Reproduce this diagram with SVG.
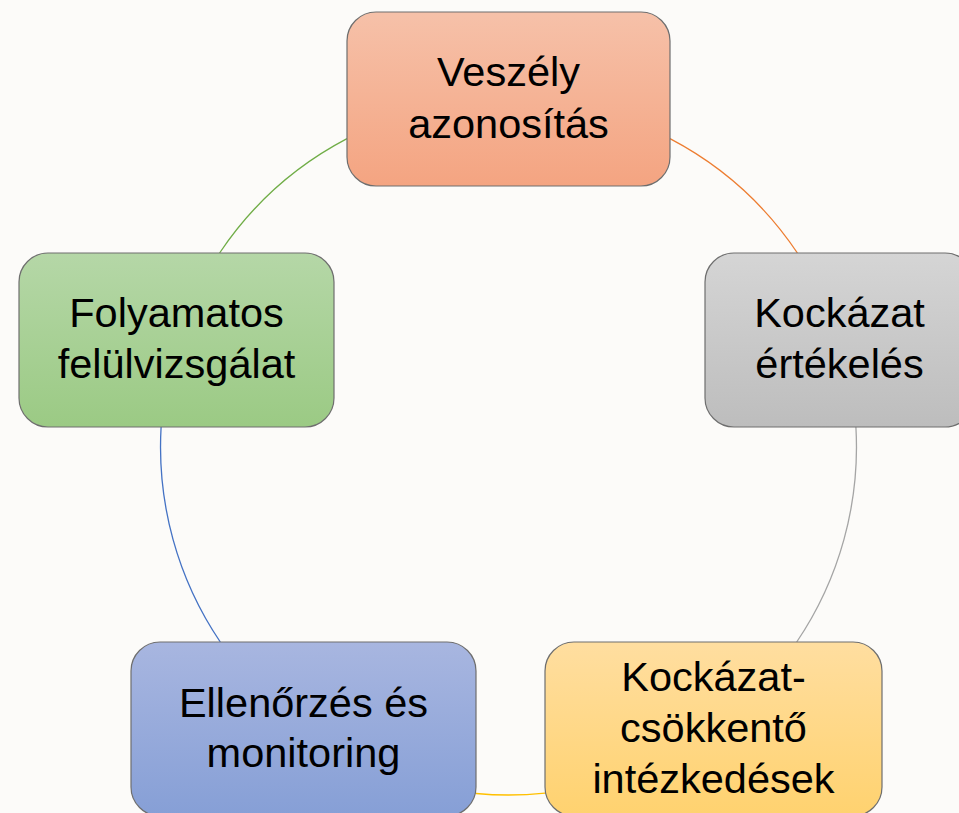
<svg xmlns="http://www.w3.org/2000/svg" width="959" height="813" viewBox="0 0 959 813">
  <defs>
    <linearGradient id="gOrange" x1="0" y1="0" x2="0" y2="1">
      <stop offset="0" stop-color="#F6C1A9"/>
      <stop offset="1" stop-color="#F4A481"/>
    </linearGradient>
    <linearGradient id="gGray" x1="0" y1="0" x2="0" y2="1">
      <stop offset="0" stop-color="#D5D5D5"/>
      <stop offset="1" stop-color="#BDBDBD"/>
    </linearGradient>
    <linearGradient id="gYellow" x1="0" y1="0" x2="0" y2="1">
      <stop offset="0" stop-color="#FFDEA0"/>
      <stop offset="1" stop-color="#FFD26F"/>
    </linearGradient>
    <linearGradient id="gBlue" x1="0" y1="0" x2="0" y2="1">
      <stop offset="0" stop-color="#A8B6E0"/>
      <stop offset="1" stop-color="#869FD6"/>
    </linearGradient>
    <linearGradient id="gGreen" x1="0" y1="0" x2="0" y2="1">
      <stop offset="0" stop-color="#B5D7A7"/>
      <stop offset="1" stop-color="#9BCA84"/>
    </linearGradient>
  </defs>
  <style>
    .box { stroke: #6E6E6E; stroke-width: 1.2; }
    .lbl { font-family: "Liberation Sans", Arial, sans-serif; font-size: 41.5px; fill: #000; text-anchor: middle; }
    .arc { fill: none; stroke-width: 1.3; }
  </style>
  <rect width="959" height="813" fill="#FCFBF9"/>
  <g id="connectors">
    <path class="arc" stroke="#ED7D31" d="M670,138.7 A348,348 0 0 1 797.4,253"/>
    <path class="arc" stroke="#A5A5A5" d="M855.9,427 A348,348 0 0 1 796.7,642"/>
    <path class="arc" stroke="#FFC000" d="M545,793.1 A348,348 0 0 1 476,793.5"/>
    <path class="arc" stroke="#4472C4" d="M220.3,642 A348,348 0 0 1 161.1,427"/>
    <path class="arc" stroke="#70AD47" d="M219.6,253 A348,348 0 0 1 347,138.7"/>
  </g>
  <g id="node-veszely">
    <rect class="box" x="347" y="12" width="323" height="174" rx="29" fill="url(#gOrange)"/>
    <text class="lbl" x="508.5" y="86">Veszély</text>
    <text class="lbl" x="508.5" y="138">azonosítás</text>
  </g>
  <g id="node-ertekeles">
    <rect class="box" x="705" y="253" width="269" height="174" rx="29" fill="url(#gGray)"/>
    <text class="lbl" x="839.5" y="327">Kockázat</text>
    <text class="lbl" x="839.5" y="378">értékelés</text>
  </g>
  <g id="node-csokkento">
    <rect class="box" x="545" y="642" width="337" height="174" rx="29" fill="url(#gYellow)"/>
    <text class="lbl" x="713.5" y="691">Kockázat-</text>
    <text class="lbl" x="713.5" y="742">csökkentő</text>
    <text class="lbl" x="713.5" y="793">intézkedések</text>
  </g>
  <g id="node-monitoring">
    <rect class="box" x="131" y="642" width="345" height="174" rx="29" fill="url(#gBlue)"/>
    <text class="lbl" x="303.5" y="717">Ellenőrzés és</text>
    <text class="lbl" x="303.5" y="767">monitoring</text>
  </g>
  <g id="node-felulvizsgalat">
    <rect class="box" x="19" y="253" width="315" height="174" rx="29" fill="url(#gGreen)"/>
    <text class="lbl" x="176.5" y="327">Folyamatos</text>
    <text class="lbl" x="176.5" y="378">felülvizsgálat</text>
  </g>
</svg>
